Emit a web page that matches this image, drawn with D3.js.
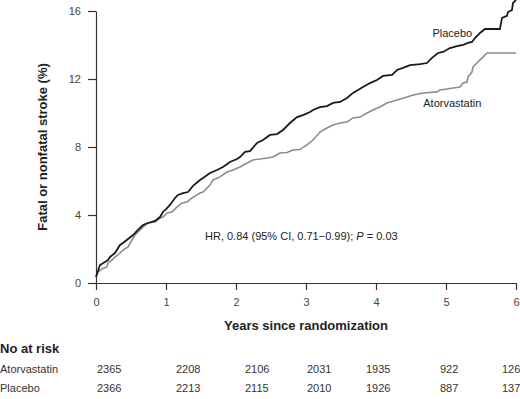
<!DOCTYPE html>
<html>
<head>
<meta charset="utf-8">
<script src="https://cdn.jsdelivr.net/npm/d3@7"></script>
<style>
  body { margin: 0; background: #fff; }
  text { font-family: "Liberation Sans", Arial, sans-serif; }
</style>
</head>
<body>
<div id="chart-area"></div>
<script>
// cumulative incidence curves, [years, percent]
var placebo = [
  [0, 0.37], [0.057, 1.06], [0.129, 1.24], [0.171, 1.35], [0.2, 1.53], [0.271, 1.76],
  [0.343, 2.24], [0.386, 2.35], [0.457, 2.59], [0.529, 2.82], [0.6, 3.12], [0.671, 3.41],
  [0.743, 3.53], [0.843, 3.65], [0.914, 3.88], [0.957, 4.18], [1.0, 4.35], [1.057, 4.59],
  [1.129, 5.0], [1.171, 5.18], [1.243, 5.29], [1.314, 5.35], [1.386, 5.71], [1.486, 6.06],
  [1.529, 6.18], [1.629, 6.47], [1.729, 6.65], [1.814, 6.82], [1.914, 7.12], [2.014, 7.29],
  [2.057, 7.41], [2.129, 7.71], [2.2, 7.76], [2.3, 8.24], [2.386, 8.41], [2.486, 8.71],
  [2.586, 8.76], [2.671, 9.0], [2.771, 9.41], [2.871, 9.76], [2.957, 9.88], [3.057, 10.06],
  [3.1, 10.18], [3.2, 10.35], [3.3, 10.41], [3.386, 10.59], [3.486, 10.65], [3.586, 10.88],
  [3.671, 11.18], [3.743, 11.35], [3.814, 11.53], [3.914, 11.76], [4.014, 11.94], [4.1, 12.18],
  [4.229, 12.24], [4.3, 12.53], [4.386, 12.65], [4.486, 12.82], [4.629, 12.88], [4.729, 12.94],
  [4.8, 13.24], [4.886, 13.53], [4.957, 13.59], [5.057, 13.82], [5.157, 13.94], [5.243, 14.0],
  [5.314, 14.12], [5.371, 14.18], [5.414, 14.41], [5.486, 14.71], [5.557, 14.94], [5.77, 14.94],
  [5.786, 15.29], [5.8, 15.59], [5.871, 15.71], [5.886, 15.94], [5.943, 16.06], [5.957, 16.47],
  [6.0, 16.65]
];
var atorvastatin = [
  [0, 0.35], [0.029, 0.65], [0.086, 0.82], [0.157, 0.94], [0.171, 1.18], [0.229, 1.35],
  [0.271, 1.53], [0.314, 1.65], [0.386, 1.94], [0.457, 2.12], [0.514, 2.53], [0.557, 2.82],
  [0.6, 3.0], [0.671, 3.29], [0.743, 3.53], [0.843, 3.59], [0.914, 3.82], [0.957, 3.88],
  [1.014, 4.12], [1.086, 4.18], [1.157, 4.47], [1.229, 4.71], [1.3, 4.76], [1.371, 5.0],
  [1.443, 5.18], [1.486, 5.29], [1.529, 5.35], [1.629, 5.76], [1.671, 6.06], [1.771, 6.24],
  [1.871, 6.53], [1.957, 6.65], [2.057, 6.82], [2.157, 7.06], [2.243, 7.24], [2.343, 7.29],
  [2.443, 7.35], [2.529, 7.41], [2.629, 7.65], [2.729, 7.68], [2.814, 7.82], [2.914, 7.85],
  [3.014, 8.12], [3.1, 8.41], [3.2, 8.88], [3.3, 9.12], [3.386, 9.29], [3.486, 9.41],
  [3.586, 9.47], [3.671, 9.71], [3.771, 9.76], [3.871, 10.0], [3.957, 10.18], [4.057, 10.35],
  [4.157, 10.59], [4.3, 10.76], [4.443, 10.94], [4.529, 11.06], [4.671, 11.18], [4.871, 11.24],
  [4.914, 11.35], [5.014, 11.41], [5.1, 11.47], [5.2, 11.53], [5.243, 11.76], [5.3, 11.82],
  [5.314, 12.12], [5.371, 12.41], [5.386, 12.71], [5.443, 12.94], [5.514, 13.24], [5.586, 13.53],
  [6.0, 13.53]
];
var xTicks = [0, 1, 2, 3, 4, 5, 6];
var yTicks = [0, 4, 8, 12, 16];
var riskGroups = ["Atorvastatin", "Placebo"];
var riskAtorvastatin = [2365, 2208, 2106, 2031, 1935, 922, 126];
var riskPlacebo = [2366, 2213, 2115, 2010, 1926, 887, 137];

var width = 520, height = 399;
var plot = {left: 96, right: 516, top: 11, bottom: 283};
// left edges of the at-risk columns
var colX = [97, 176, 245, 307, 366, 440, 502];

var svg = d3.select("#chart-area").append("svg")
    .attr("width", width)
    .attr("height", height);

var x = d3.scaleLinear().domain([0, 6]).range([plot.left, plot.right]);
var y = d3.scaleLinear().domain([0, 16]).range([plot.bottom, plot.top]);

var xAxis = svg.append("g")
    .attr("transform", "translate(0," + plot.bottom + ")")
    .call(d3.axisBottom(x).tickValues(xTicks).tickFormat(d3.format("d"))
      .tickSize(7).tickSizeOuter(0).tickPadding(8));
var yAxis = svg.append("g")
    .attr("transform", "translate(" + plot.left + ",0)")
    .call(d3.axisLeft(y).tickValues(yTicks).tickFormat(d3.format("d"))
      .tickSize(8).tickSizeOuter(0).tickPadding(7));

[xAxis, yAxis].forEach(function(g) {
  g.select(".domain").attr("stroke", "#333").attr("stroke-width", 1.2);
  g.selectAll(".tick line").attr("stroke", "#333").attr("stroke-width", 1.2);
  g.selectAll(".tick text")
      .attr("fill", "#444")
      .style("font-size", "11px")
      .style("font-family", "'Liberation Sans', Arial, sans-serif");
});

var line = d3.line()
    .x(function(d) { return x(d[0]); })
    .y(function(d) { return y(d[1]); });

svg.append("path")
    .datum(atorvastatin)
    .attr("fill", "none")
    .attr("stroke", "#8c8c8c")
    .attr("stroke-width", 1.6)
    .attr("d", line);

svg.append("path")
    .datum(placebo)
    .attr("fill", "none")
    .attr("stroke", "#1a1a1a")
    .attr("stroke-width", 1.8)
    .attr("d", line);

// curve labels
svg.append("text")
    .attr("x", x(5.09)).attr("y", y(14.5))
    .attr("text-anchor", "middle")
    .attr("fill", "#222")
    .style("font-size", "11px")
    .text("Placebo");
svg.append("text")
    .attr("x", x(5.09)).attr("y", y(10.35))
    .attr("text-anchor", "middle")
    .attr("fill", "#222")
    .style("font-size", "11px")
    .text("Atorvastatin");

var hr = svg.append("text")
    .attr("x", 205).attr("y", 240)
    .attr("fill", "#222")
    .style("font-size", "11px");
hr.append("tspan").text("HR, 0.84 (95% CI, 0.71\u22120.99); ");
hr.append("tspan").style("font-style", "italic").text("P");
hr.append("tspan").text(" = 0.03");

// axis titles
svg.append("text")
    .attr("transform", "translate(47," + (plot.top + plot.bottom) / 2 + ") rotate(-90)")
    .attr("text-anchor", "middle")
    .attr("fill", "#222")
    .style("font-size", "13px")
    .style("font-weight", "bold")
    .text("Fatal or nonfatal stroke (%)");
svg.append("text")
    .attr("x", (plot.left + plot.right) / 2)
    .attr("y", 330)
    .attr("text-anchor", "middle")
    .attr("fill", "#222")
    .style("font-size", "13px")
    .style("font-weight", "bold")
    .text("Years since randomization");

// number at risk table
svg.append("text")
    .attr("x", 0).attr("y", 353)
    .attr("fill", "#222")
    .style("font-size", "13px")
    .style("font-weight", "bold")
    .text("No at risk");

[riskAtorvastatin, riskPlacebo].forEach(function(row, i) {
  var ry = 373 + i * 19;
  svg.append("text")
      .attr("x", 0).attr("y", ry)
      .attr("fill", "#333")
      .style("font-size", "11px")
      .text(riskGroups[i]);
  svg.selectAll(".risk" + i)
      .data(row)
      .enter()
      .append("text")
      .attr("class", "risk" + i)
      .attr("x", function(d, j) { return colX[j]; })
      .attr("y", ry)
      .attr("fill", "#333")
      .style("font-size", "11px")
      .text(function(d) { return d; });
});
</script>
</body>
</html>
